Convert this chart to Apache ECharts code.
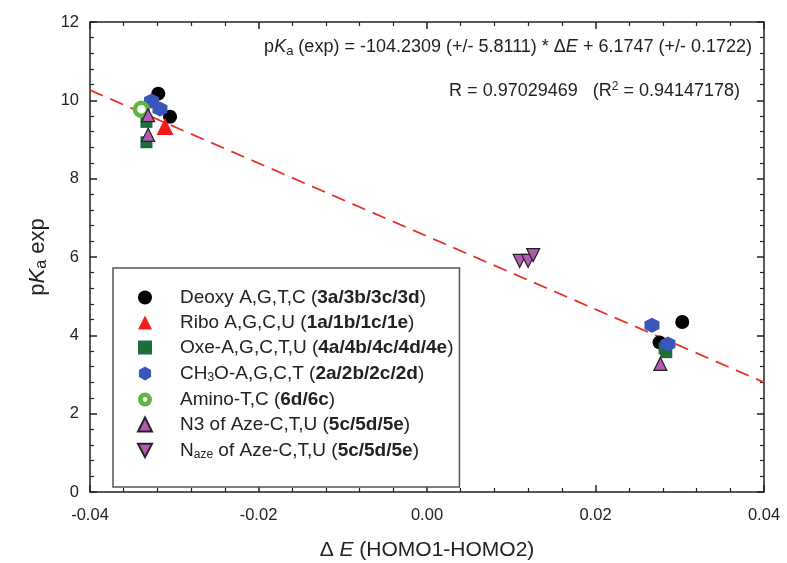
<!DOCTYPE html>
<head>
    <meta charset="utf-8">
    <title>pKa vs dE</title>
    <script src="https://cdn.jsdelivr.net/npm/echarts@6/dist/echarts.min.js"></script>
    <style>
        body { margin: 0; background: #fff; }
        #chart { width: 787px; height: 563px; }
    </style>
</head>
<body>
    <div id="chart"></div>
    <script>
        // values
        var deoxyX = [-0.0319, -0.0305, 0.0276, 0.0303];
        var deoxyY = [10.17, 9.58, 3.82, 4.34];
        var riboX = [-0.0311];
        var riboY = [9.33];
        var oxeX = [-0.0333, -0.0333, 0.0282, 0.0284];
        var oxeY = [9.45, 8.93, 3.67, 3.57];
        var ch3oX = [-0.0327, -0.0317, 0.0267, 0.0286];
        var ch3oY = [9.98, 9.78, 4.26, 3.78];
        var aminoX = [-0.0339];
        var aminoY = [9.77];
        var n3X = [-0.0331, -0.0331, 0.0277];
        var n3Y = [9.62, 9.12, 3.27];
        var nazeX = [0.0110, 0.0120, 0.0126];
        var nazeY = [5.90, 5.90, 6.05];
        var fitX = [-0.04, 0.04];
        var fitY = [10.26, 2.80];
        var xTicks = [-0.04, -0.02, 0.00, 0.02, 0.04];

        function pts(xs, ys) {
            return xs.map(function(x, i) { return [x, ys[i]]; });
        }

        var hexagon = 'path://M0,-1L0.866,-0.5L0.866,0.5L0,1L-0.866,0.5L-0.866,-0.5Z';
        // green disc with a small hole, for the legend icon
        var donut = 'path://M0,-10A10,10,0,1,1,0,10A10,10,0,1,1,0,-10ZM0,-3.5A3.5,3.5,0,1,0,0,3.5A3.5,3.5,0,1,0,0,-3.5Z';
        var triDown = 'path://M-1,-0.9L1,-0.9L0,1Z';
        var font = 'Liberation Sans';

        var legendText = {
            'Deoxy': '{n|Deoxy A,G,T,C (}{b|3a/3b/3c/3d}{n|)}',
            'Ribo': '{n|Ribo A,G,C,U (}{b|1a/1b/1c/1e}{n|)}',
            'Oxe': '{n|Oxe-A,G,C,T,U (}{b|4a/4b/4c/4d/4e}{n|)}',
            'CH3O': '{n|CH}{s|3}{n|O-A,G,C,T (}{b|2a/2b/2c/2d}{n|)}',
            'Amino': '{n|Amino-T,C (}{b|6d/6c}{n|)}',
            'N3': '{n|N3 of Aze-C,T,U (}{b|5c/5d/5e}{n|)}',
            'Naze': '{n|N}{s|aze}{n| of Aze-C,T,U (}{b|5c/5d/5e}{n|)}'
        };

        function axisStyle() {
            return {
                axisLine: { onZero: false, lineStyle: { color: '#222', width: 1.5 } },
                axisTick: { inside: true, length: 7, lineStyle: { color: '#222', width: 1.5 } },
                minorTick: { show: true, splitNumber: 5, length: 4, lineStyle: { color: '#222', width: 1.2 } },
                splitLine: { show: false }
            };
        }

        var chart = echarts.init(document.getElementById('chart'));
        chart.setOption({
            animation: false,
            textStyle: { fontFamily: font },
            grid: { left: 90, right: 23, top: 22, bottom: 71, outerBoundsMode: 'none' },
            xAxis: [
                Object.assign({
                    type: 'value', min: -0.04, max: 0.04, interval: 0.02,
                    name: '{d|Δ }{i|E}{d| (HOMO1-HOMO2)}',
                    nameLocation: 'middle', nameGap: 48,
                    nameTextStyle: {
                        rich: {
                            d: { fontSize: 21, color: '#222', fontFamily: font },
                            i: { fontSize: 21, color: '#222', fontStyle: 'italic', fontFamily: font }
                        }
                    },
                    axisLabel: {
                        fontSize: 16.5, color: '#222', margin: 15,
                        formatter: function(v) {
                            var t = xTicks.filter(function(k) { return Math.abs(k - v) < 1e-9; });
                            return t.length ? t[0].toFixed(2) : '';
                        }
                    }
                }, axisStyle()),
                Object.assign({
                    type: 'value', min: -0.04, max: 0.04, interval: 0.02, position: 'top',
                    axisLabel: { show: false }
                }, axisStyle())
            ],
            yAxis: [
                Object.assign({
                    type: 'value', min: 0, max: 12, interval: 2,
                    name: '{d|p}{i|K}{s|a}{d| exp}',
                    nameLocation: 'middle', nameGap: 31,
                    nameTextStyle: {
                        rich: {
                            d: { fontSize: 22, color: '#222', fontFamily: font },
                            i: { fontSize: 22, color: '#222', fontStyle: 'italic', fontFamily: font },
                            s: { fontSize: 16, color: '#222', fontFamily: font, padding: [8, 0, 0, 0] }
                        }
                    },
                    axisLabel: { fontSize: 16.5, color: '#222', margin: 11 }
                }, axisStyle()),
                Object.assign({
                    type: 'value', min: 0, max: 12, interval: 2, position: 'right',
                    axisLabel: { show: false }
                }, axisStyle())
            ],
            legend: {
                orient: 'vertical',
                left: 113, top: 268,
                padding: [20, 6, 26, 24],
                itemGap: 6,
                itemWidth: 14, itemHeight: 14,
                borderColor: '#555', borderWidth: 1.5,
                backgroundColor: '#fff',
                formatter: function(name) { return legendText[name]; },
                textStyle: {
                    fontSize: 19, color: '#222', padding: [0, 0, 0, 23],
                    rich: {
                        n: { fontSize: 19, color: '#222', fontFamily: font, lineHeight: 18 },
                        b: { fontSize: 19, color: '#222', fontWeight: 'bold', fontFamily: font, lineHeight: 18 },
                        s: { fontSize: 12, color: '#222', fontFamily: font, padding: [9, 0, 0, 0], lineHeight: 18 }
                    }
                },
                data: ['Deoxy', 'Ribo', 'Oxe', 'CH3O',
                    { name: 'Amino', icon: donut, itemStyle: { color: '#5cb83c', borderWidth: 0 } },
                    'N3',
                    { name: 'Naze', icon: triDown }]
            },
            graphic: [
                {
                    type: 'text', right: 35, top: 38,
                    style: {
                        text: '{n|p}{i|K}{s|a}{n| (exp) = -104.2309 (+/- 5.8111) * Δ}{i|E}{n| + 6.1747 (+/- 0.1722)}',
                        rich: {
                            n: { fontSize: 18, fill: '#222', fontFamily: font },
                            i: { fontSize: 18, fill: '#222', fontStyle: 'italic', fontFamily: font },
                            s: { fontSize: 13, fill: '#222', fontFamily: font, padding: [9, 0, 0, 0] }
                        }
                    }
                },
                {
                    type: 'text', right: 47, top: 81,
                    style: {
                        text: '{n|R = 0.97029469   (R}{p|2}{n| = 0.94147178)}',
                        rich: {
                            n: { fontSize: 18, fill: '#222', fontFamily: font },
                            p: { fontSize: 12, fill: '#222', fontFamily: font, padding: [0, 0, 9, 0] }
                        }
                    }
                }
            ],
            series: [
                {
                    type: 'line', data: pts(fitX, fitY), symbol: 'none', z: 1,
                    lineStyle: { color: '#e8302a', width: 1.8, type: [14, 8] },
                    silent: true
                },
                {
                    name: 'Deoxy', type: 'scatter', data: pts(deoxyX, deoxyY),
                    symbol: 'circle', symbolSize: 14, itemStyle: { color: '#000', opacity: 1 }
                },
                {
                    name: 'Ribo', type: 'scatter', data: pts(riboX, riboY),
                    symbol: 'triangle', symbolSize: 17, itemStyle: { color: '#f01c1c', opacity: 1 }
                },
                {
                    name: 'Oxe', type: 'scatter', data: pts(oxeX, oxeY),
                    symbol: 'rect', symbolSize: 12, itemStyle: { color: '#1d6e3a', opacity: 1 }
                },
                {
                    name: 'CH3O', type: 'scatter', data: pts(ch3oX, ch3oY),
                    symbol: hexagon, symbolSize: 15, itemStyle: { color: '#3a56b8', opacity: 1 }
                },
                {
                    name: 'Amino', type: 'scatter', data: pts(aminoX, aminoY),
                    symbol: 'circle', symbolSize: 13,
                    itemStyle: { color: '#fff', borderColor: '#5cb83c', borderWidth: 4.5, opacity: 1 }
                },
                {
                    name: 'N3', type: 'scatter', data: pts(n3X, n3Y),
                    symbol: 'triangle', symbolSize: 13,
                    itemStyle: { color: '#b25bb5', borderColor: '#222', borderWidth: 1.2, opacity: 1 }
                },
                {
                    name: 'Naze', type: 'scatter', data: pts(nazeX, nazeY),
                    symbol: 'triangle', symbolRotate: 180, symbolSize: 13,
                    itemStyle: { color: '#b25bb5', borderColor: '#222', borderWidth: 1.2, opacity: 1 }
                }
            ]
        });
    </script>
</body>
